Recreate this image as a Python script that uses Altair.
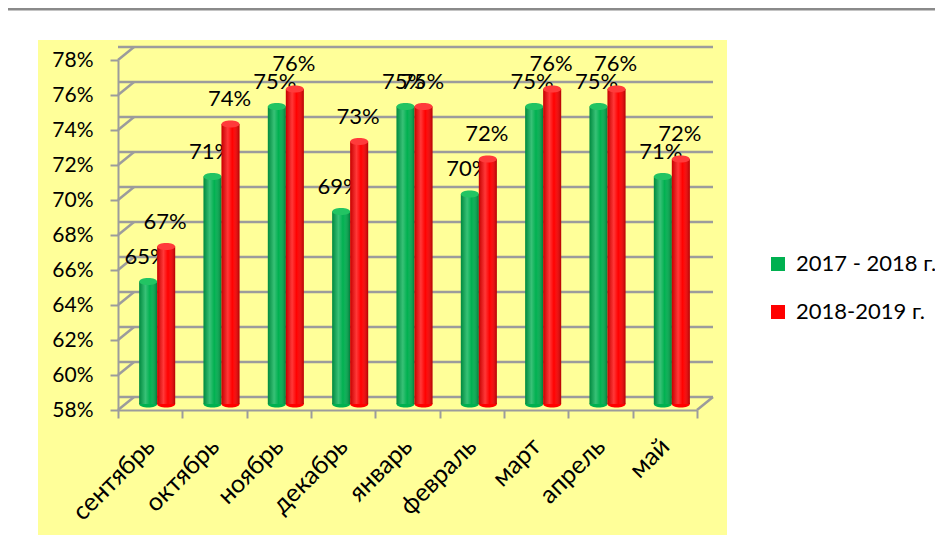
import altair as alt
import pandas as pd

months = ["сентябрь", "октябрь", "ноябрь", "декабрь", "январь",
          "февраль", "март", "апрель", "май"]
s1 = [0.65, 0.71, 0.75, 0.69, 0.75, 0.70, 0.75, 0.75, 0.71]
s2 = [0.67, 0.74, 0.76, 0.73, 0.75, 0.72, 0.76, 0.76, 0.72]
names = ["2017 - 2018 г.", "2018-2019 г."]
colors = ["#00b050", "#ff0000"]
cap_colors = ["#22c463", "#ff3b3b"]
ticks = [0.58, 0.60, 0.62, 0.64, 0.66, 0.68, 0.70, 0.72, 0.74, 0.76, 0.78]

rows = []
for i, m in enumerate(months):
    rows.append({"month": m, "series": names[0], "value": s1[i]})
    rows.append({"month": m, "series": names[1], "value": s2[i]})
long = pd.DataFrame(rows)
tick_df = pd.DataFrame({"v": ticks})
one = pd.DataFrame({"a": [0]})

W, H = 579, 350
FONT = "Lato"
GRAY = "#9c9c9c"
ELLIPSE = "M -1 0 A 1 0.4 0 1 1 1 0 A 1 0.4 0 1 1 -1 0 Z"

yscale = alt.Scale(domain=[0.58, 0.78], nice=False, zero=False)
xscale = alt.Scale(domain=months, paddingInner=0, paddingOuter=0)
colscale = alt.Scale(domain=names, range=colors)

yaxis = alt.Axis(values=ticks, format=".0%", labelFont=FONT, labelFontSize=21,
                 labelColor="black", tickColor=GRAY, tickWidth=2, tickSize=8,
                 domainColor=GRAY, domainWidth=2, grid=False, labelPadding=17,
                 title=None, zindex=1)
xaxis = alt.Axis(labelAngle=-45, labelAlign="right", labelBaseline="middle",
                 labelFont=FONT, labelFontSize=25, labelColor="black",
                 tickColor=GRAY, tickWidth=2, tickSize=8, tickBand="extent",
                 domainColor=GRAY, domainWidth=2, labelPadding=24, title=None,
                 zindex=1)

def YQ(field):
    return alt.Y(field, type="quantitative", scale=yscale, axis=yaxis)

def YD(v):
    return alt.YDatum(v, scale=yscale, axis=yaxis)

XM = alt.X("month:N", scale=xscale, sort=months, axis=xaxis)

# decorative background panel
panel = alt.Chart(one).mark_rect(color="#ffff99").encode(
    x=alt.value(-80), x2=alt.value(W + 30), y=alt.value(-20), y2=alt.value(H + 125))
topline = alt.Chart(one).mark_rule(color="#8a8a8a", strokeWidth=3).encode(
    x=alt.value(-110), x2=alt.value(W + 238), y=alt.value(-51))

grid = alt.Chart(tick_df).mark_rule(color=GRAY, strokeWidth=2.5, xOffset=16,
                                    x2Offset=16, yOffset=-13).encode(y=YQ("v"))
conn = alt.Chart(tick_df).mark_rule(color=GRAY, strokeWidth=2.5, y2Offset=-13).encode(
    x=alt.value(0), x2=alt.value(16), y=YQ("v"), y2="v:Q")
rconn = alt.Chart(one).mark_rule(color=GRAY, strokeWidth=2.5, y2Offset=-13).encode(
    x=alt.value(W), x2=alt.value(W + 16), y=YD(0.58), y2=alt.datum(0.58))

shade = alt.Gradient(
    gradient="linear", x1=0, x2=1, y1=0, y2=0,
    stops=[alt.GradientStop(offset=0, color="rgba(0,0,0,0.22)"),
           alt.GradientStop(offset=0.35, color="rgba(255,255,255,0.22)"),
           alt.GradientStop(offset=0.6, color="rgba(255,255,255,0.0)"),
           alt.GradientStop(offset=1, color="rgba(0,0,0,0.30)")])

legend = alt.Legend(title=None, orient="none", legendX=649, legendY=193,
                    symbolType="square", symbolSize=196, labelFont=FONT,
                    labelFontSize=22, labelColor="black", rowPadding=26,
                    labelOffset=7, padding=0, symbolStrokeWidth=0)

layers = [panel, topline, grid, conn, rconn]
offs = [-2, 16]
tdx = [-4, 15]
for k, name in enumerate(names):
    b = alt.Chart(long).transform_filter(alt.datum.series == name)
    base_cap = b.mark_point(shape=ELLIPSE, size=324, filled=True, opacity=1,
                            color=colors[k], xOffset=offs[k], yOffset=-6,
                            strokeWidth=0).encode(x=XM, y=YD(0.58))
    bar = b.mark_bar(width=18, xOffset=offs[k], yOffset=-6, y2Offset=-6).encode(
        x=XM, y=YQ("value"), y2=alt.datum(0.58),
        color=alt.Color("series:N", scale=colscale, legend=legend))
    over = b.mark_bar(width=18, xOffset=offs[k], yOffset=-6, y2Offset=-6,
                      fill=shade).encode(x=XM, y=YQ("value"), y2=alt.datum(0.58))
    cap = b.mark_point(shape=ELLIPSE, size=324, filled=True, opacity=1,
                       color=cap_colors[k], xOffset=offs[k], yOffset=-6,
                       strokeWidth=0).encode(x=XM, y=YQ("value"))
    lab = b.mark_text(font=FONT, fontSize=22, color="black", dx=tdx[k], dy=-31,
                      baseline="middle").encode(
        x=XM, y=YQ("value"), text=alt.Text("value:Q", format=".0%"))
    layers += [base_cap, bar, over, cap, lab]

chart = alt.layer(*layers).properties(
    width=W, height=H,
    autosize=alt.AutoSizeParams(type="none"),
    padding={"left": 110, "top": 52, "right": 238, "bottom": 131},
    background="white",
).configure_view(stroke=None)

chart.save("out.html", embed_options={"renderer": "svg", "actions": False})
